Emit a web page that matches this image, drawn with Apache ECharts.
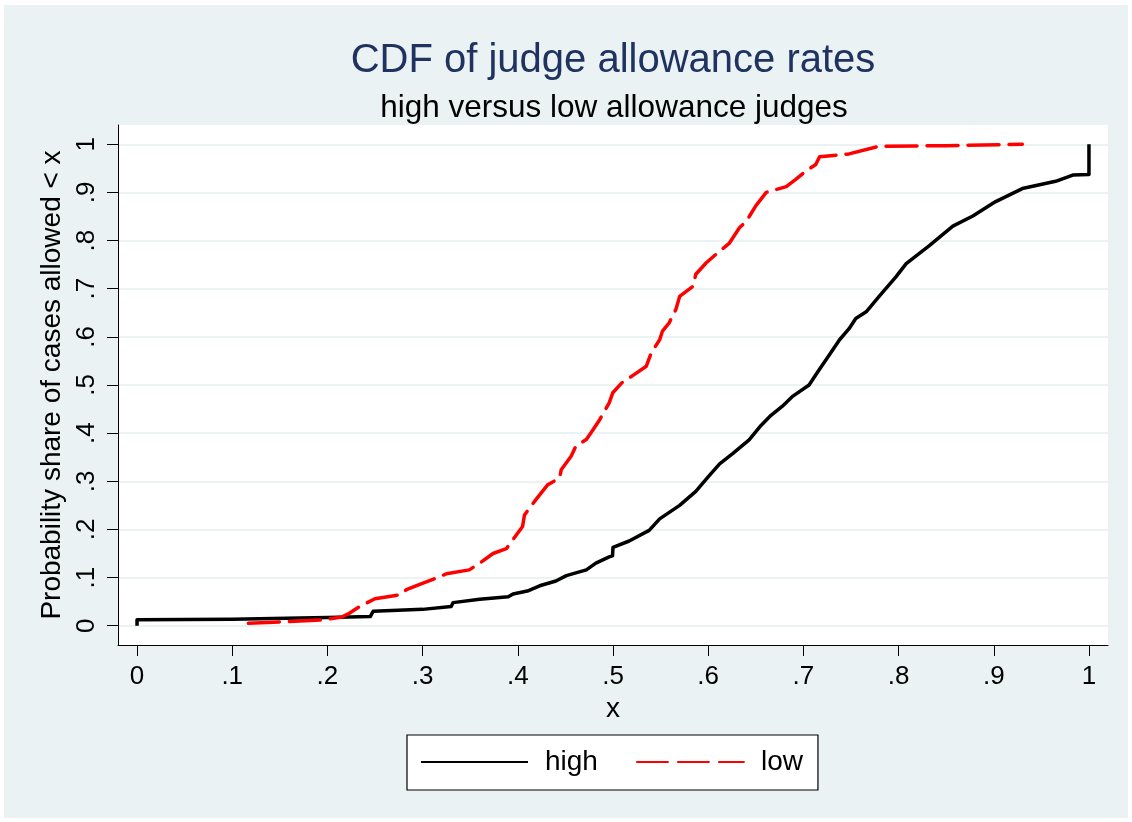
<!DOCTYPE html>
<html>
<head>
<meta charset="utf-8">
<script src="https://cdn.jsdelivr.net/npm/echarts@6/dist/echarts.min.js"></script>
<style>
html,body{margin:0;padding:0;background:#ffffff;width:1132px;height:822px;overflow:hidden}
#c{position:absolute;left:4px;top:5px;width:1124px;height:813px}
</style>
</head>
<body>
<div id="c"></div>
<script>
// Tick values and labels (Stata style)
const xTickValues = [0,0.1,0.2,0.3,0.4,0.5,0.6,0.7,0.8,0.9,1];
const xTickLabels = ['0','.1','.2','.3','.4','.5','.6','.7','.8','.9','1'];
const yTickValues = [0,0.1,0.2,0.3,0.4,0.5,0.6,0.7,0.8,0.9,1];
const yTickLabels = ['0','.1','.2','.3','.4','.5','.6','.7','.8','.9','1'];

const seriesNames = ['high','low'];

// Empirical CDF of allowance rate, high allowance judges: [x, P]
const highData = [
  [0,0],[0,0.0125],[0.1,0.0135],[0.2,0.017],[0.245,0.019],[0.248,0.03],[0.30,0.034],
  [0.302,0.038],[0.33,0.04],[0.332,0.048],[0.36,0.055],[0.39,0.06],[0.395,0.066],
  [0.41,0.072],[0.423,0.083],[0.44,0.093],[0.451,0.104],[0.472,0.116],[0.482,0.13],
  [0.496,0.143],[0.4995,0.145],[0.5,0.163],[0.517,0.176],[0.538,0.198],[0.549,0.222],
  [0.57,0.25],[0.587,0.279],[0.5995,0.308],[0.612,0.336],[0.626,0.358],[0.643,0.386],
  [0.6555,0.416],[0.666,0.437],[0.678,0.456],[0.689,0.477],[0.706,0.5],[0.715,0.527],
  [0.727,0.562],[0.738,0.594],[0.748,0.617],[0.755,0.638],[0.766,0.652],[0.78,0.685],
  [0.797,0.724],[0.808,0.752],[0.832,0.789],[0.857,0.83],[0.878,0.851],[0.902,0.881],
  [0.93,0.908],[0.965,0.923],[0.983,0.936],[1.0,0.937],[1.0,1.0]
];

// Empirical CDF of allowance rate, low allowance judges: [x, P]
const lowData = [
  [0.117,0.005],[0.195,0.012],[0.215,0.018],[0.223,0.026],[0.234,0.04],[0.25,0.056],
  [0.276,0.064],[0.283,0.075],[0.297,0.086],[0.318,0.102],[0.325,0.108],[0.349,0.116],
  [0.36,0.13],[0.374,0.15],[0.388,0.16],[0.395,0.179],[0.405,0.206],[0.407,0.23],
  [0.419,0.262],[0.4315,0.293],[0.444,0.307],[0.4456,0.324],[0.456,0.352],[0.461,0.373],
  [0.472,0.387],[0.479,0.407],[0.486,0.428],[0.496,0.463],[0.4998,0.484],[0.509,0.504],
  [0.521,0.52],[0.535,0.539],[0.54,0.566],[0.549,0.594],[0.552,0.612],[0.559,0.629],
  [0.566,0.657],[0.57,0.684],[0.584,0.705],[0.587,0.73],[0.598,0.754],[0.612,0.778],
  [0.622,0.794],[0.633,0.827],[0.64,0.84],[0.65,0.872],[0.661,0.9],[0.682,0.912],
  [0.692,0.927],[0.703,0.945],[0.713,0.958],[0.717,0.974],[0.748,0.98],[0.78,0.996],
  [0.85,0.997],[0.93,1.0]
];

const FONT = '"Liberation Sans", Arial, Helvetica, sans-serif';

function labelFor(values, labels) {
  return function (v) {
    for (let i = 0; i < values.length; i++) {
      if (Math.abs(values[i] - v) < 1e-9) return labels[i];
    }
    return '';
  };
}

const chart = echarts.init(document.getElementById('c'), null, {renderer: 'canvas'});
chart.setOption({
  animation: false,
  backgroundColor: '#EAF2F3',
  textStyle: {fontFamily: FONT},
  title: [
    {
      text: 'CDF of judge allowance rates',
      left: 604, top: 31, textAlign: 'center',
      textStyle: {fontFamily: FONT, fontSize: 40, fontWeight: 'normal', color: '#1F3260'}
    },
    {
      text: 'high versus low allowance judges',
      left: 605, top: 82, textAlign: 'center',
      textStyle: {fontFamily: FONT, fontSize: 31.5, fontWeight: 'normal', color: '#000000'}
    }
  ],
  legend: {
    data: seriesNames,
    left: 403, top: 730,
    orient: 'horizontal',
    backgroundColor: '#ffffff',
    borderColor: '#000000',
    borderWidth: 1.2,
    borderRadius: 0,
    padding: [13, 15, 14, 13],
    itemWidth: 107,
    itemHeight: 14,
    itemGap: 38,
    itemStyle: {opacity: 0},
    textStyle: {fontFamily: FONT, fontSize: 28, color: '#000000', padding: [0, 0, 0, 12]}
  },
  grid: {
    left: 114, right: 20, top: 120, bottom: 173,
    show: true, backgroundColor: '#ffffff', borderWidth: 0,
    containLabel: false
  },
  xAxis: {
    type: 'value',
    min: -0.02, max: 1.02,
    name: 'x',
    nameLocation: 'middle',
    nameGap: 48,
    nameTextStyle: {fontFamily: FONT, fontSize: 28, color: '#000000'},
    axisLine: {show: true, onZero: false, lineStyle: {color: '#000000', width: 1}},
    axisTick: {show: true, customValues: xTickValues, length: 11, lineStyle: {color: '#000000', width: 1}},
    axisLabel: {customValues: xTickValues, formatter: labelFor(xTickValues, xTickLabels),
      fontFamily: FONT, fontSize: 26, color: '#000000', margin: 19},
    splitLine: {show: false}
  },
  yAxis: {
    type: 'value',
    min: -0.04, max: 1.04,
    name: 'Probability share of cases allowed < x',
    nameLocation: 'middle',
    nameGap: 50,
    nameTextStyle: {fontFamily: FONT, fontSize: 28, color: '#000000'},
    axisLine: {show: true, onZero: false, lineStyle: {color: '#000000', width: 1}},
    axisTick: {show: true, customValues: yTickValues, length: 11, lineStyle: {color: '#000000', width: 1}},
    axisLabel: {customValues: yTickValues, formatter: labelFor(yTickValues, yTickLabels),
      rotate: 90, fontFamily: FONT, fontSize: 26, color: '#000000', margin: 18},
    splitLine: {show: true, lineStyle: {color: '#EAF2F3', width: 2}}
  },
  series: [
    {
      name: seriesNames[0],
      type: 'line',
      data: highData,
      symbol: 'none',
      symbolSize: 0,
      showSymbol: false,
      smooth: false,
      lineStyle: {color: '#000000', width: 3.5, join: 'round', cap: 'butt'},
      itemStyle: {color: '#000000'},
      z: 2
    },
    {
      name: seriesNames[1],
      type: 'line',
      data: lowData,
      symbol: 'none',
      symbolSize: 0,
      showSymbol: false,
      smooth: false,
      lineStyle: {color: '#FF0000', width: 3.5, type: [31, 10], cap: 'round', join: 'round'},
      itemStyle: {color: '#FF0000'},
      z: 3
    }
  ]
});
</script>
</body>
</html>
